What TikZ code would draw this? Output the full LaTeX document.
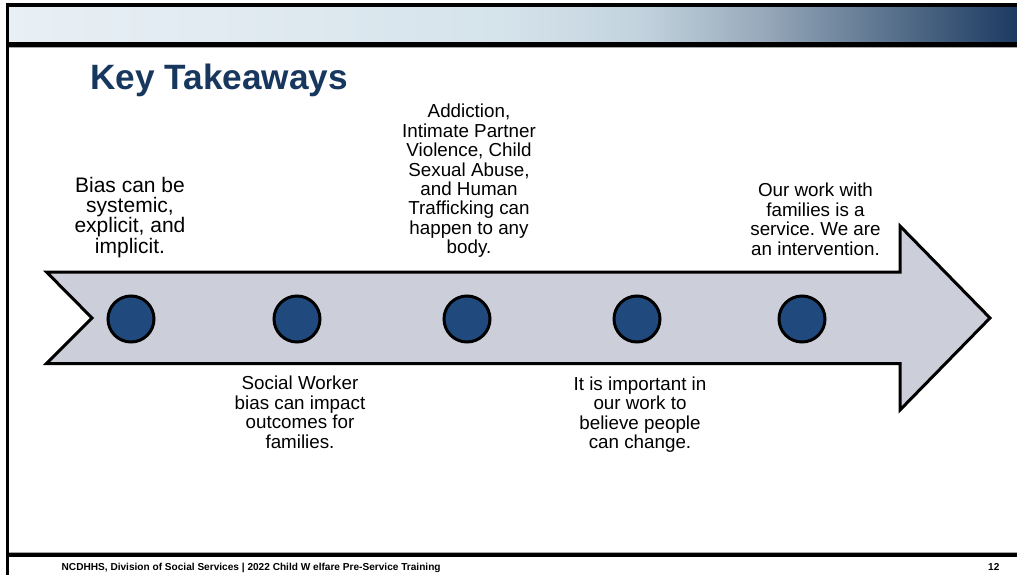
\documentclass[tikz,border=0pt]{standalone}
\usepackage{fontspec}
\setmainfont{Liberation Sans}
\frenchspacing
\definecolor{titleblue}{HTML}{17375E}
\definecolor{arrowfill}{HTML}{CCCFDA}
\definecolor{dotblue}{HTML}{204A7E}
\definecolor{gA}{HTML}{E8EFF5}
\definecolor{gB}{HTML}{DEE9EF}
\definecolor{gC}{HTML}{D5E3EB}
\definecolor{gD}{HTML}{C3D3DE}
\definecolor{gE}{HTML}{98AABB}
\definecolor{gF}{HTML}{5E7690}
\definecolor{gG}{HTML}{1D3A61}
\pgfdeclarehorizontalshading{bandshade}{100bp}{color(0bp)=(gA); color(25bp)=(gA); color(39.4bp)=(gB); color(49.4bp)=(gC); color(56.3bp)=(gD); color(62.3bp)=(gE); color(68.2bp)=(gF); color(75bp)=(gG); color(100bp)=(gG)}
\tikzset{
  takeaway/.style={align=center, inner sep=0pt, anchor=north, text=black,
    font=\fontsize{18.8}{19.4}\selectfont},
  dot/.style={circle, draw=black, line width=3pt, fill=dotblue, minimum size=46pt, inner sep=0pt},
  footer/.style={font=\bfseries\fontsize{10.1}{11}\selectfont, inner sep=0pt, text=black}
}
\begin{document}
\begin{tikzpicture}[x=1pt,y=-1pt]
\useasboundingbox (0,0) rectangle (1017,575);
\fill[white] (0,0) rectangle (1017,575);
% header band
\fill[black] (6,3) rectangle (1017,8);
\shade[shading=bandshade] (9,8) rectangle (1017,41.7);
\fill[black] (6,41.7) rectangle (1017,46.7);
\fill[black!35] (9,46.7) rectangle (1017,48);
% left and bottom borders
\fill[black] (6,3) rectangle (9,575);
\fill[black!35] (9,551.5) rectangle (1017,553);
\fill[black] (6,553) rectangle (1017,557);
% title
\node[anchor=base west, inner sep=0pt, text=titleblue, font=\bfseries\fontsize{35.2}{38}\selectfont] (title) at (90,90) {Key Takeaways};
% arrow
\draw[fill=arrowfill, line width=3pt, line join=miter, miter limit=10]
  (46.5,272) -- (900,272) -- (900,226) -- (990,318) -- (900,410) -- (900,363.5)
  -- (46.5,363.5) -- (92,318) -- cycle;
% dots
\node[dot] (d1) at (131,319) {};
\node[dot] (d2) at (297,319) {};
\node[dot] (d3) at (467,319) {};
\node[dot] (d4) at (637,319) {};
\node[dot] (d5) at (802,319) {};
% texts
\node[takeaway, font=\fontsize{21}{19.4}\selectfont] (t1) at (130,177.5) {Bias can be\\systemic,\\explicit, and\\implicit.};
\node[takeaway] (t3) at (469,104) {Addiction,\\Intimate Partner\\Violence, Child\\Sexual Abuse,\\and Human\\Trafficking can\\happen to any\\body.};
\node[takeaway] (t5) at (815.5,183) {Our work with\\families is a\\service. We are\\an intervention.};
\node[takeaway] (t2) at (300,376) {Social Worker\\bias can impact\\outcomes for\\families.};
\node[takeaway] (t4) at (640,376.5) {It is important in\\our work to\\believe people\\can change.};
% footer
\node[footer, anchor=base west] (foot) at (61.5,570) {NCDHHS, Division of Social Services | 2022 Child W elfare Pre-Service Training};
\node[footer, anchor=base west] (page) at (988,570) {12};
\end{tikzpicture}
\end{document}
